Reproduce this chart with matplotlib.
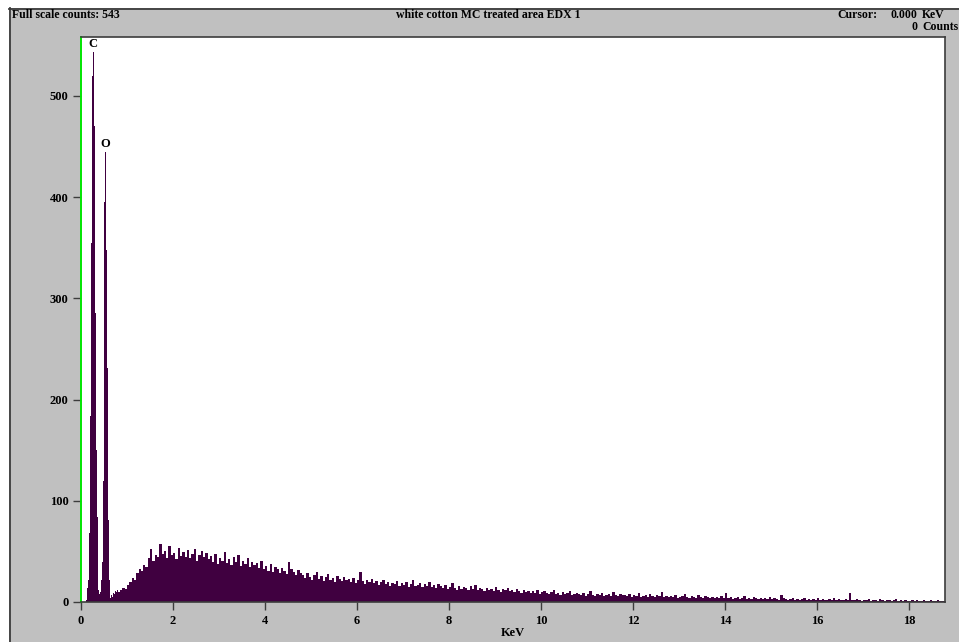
import matplotlib
matplotlib.use("Agg")
import matplotlib.pyplot as plt
from matplotlib.patches import Rectangle
from matplotlib.lines import Line2D
import numpy as np

# ---- spectrum data -------------------------------------------------------
# low-energy region (C and O lines), 0.02 keV channels starting at 0.00 keV
low_start = 0.0
low_step = 0.02
low_counts = [0, 0, 0, 0, 0, 2, 8, 14, 22, 68,
              184, 355, 520, 543, 470, 286, 150, 84, 30, 12,
              8, 10, 22, 40, 120, 395, 445, 348, 231, 81,
              22, 6, 4, 7, 5, 9, 8, 11, 10, 12]

# continuum, 0.05 keV channels starting at 0.80 keV (one row per keV)
bg_start = 0.80
bg_step = 0.05
bg_counts = [
    10, 12, 14, 13, 17, 20, 24, 22, 29, 33, 31, 37, 35, 43, 52, 41, 46, 44, 57, 47,
    50, 43, 55, 46, 48, 42, 53, 45, 49, 44, 51, 43, 47, 52, 41, 46, 50, 44, 48, 42,
    45, 40, 47, 38, 43, 41, 49, 39, 42, 37, 44, 40, 46, 36, 41, 38, 43, 35, 40, 37,
    39, 34, 41, 33, 36, 31, 38, 30, 35, 33, 29, 34, 31, 28, 40, 33, 30, 27, 32, 29,
    27, 24, 29, 25, 22, 27, 30, 23, 26, 21, 25, 28, 22, 24, 20, 26, 23, 21, 25, 22,
    23, 20, 24, 19, 22, 30, 21, 18, 22, 20, 23, 19, 21, 17, 20, 22, 18, 20, 16, 19,
    18, 21, 16, 19, 17, 20, 15, 18, 22, 16, 17, 19, 15, 18, 16, 20, 15, 17, 14, 18,
    16, 14, 17, 13, 15, 19, 14, 12, 16, 13, 15, 14, 12, 16, 13, 17, 12, 14, 13, 11,
    14, 12, 13, 11, 15, 12, 10, 13, 12, 14, 11, 12, 10, 13, 11, 9, 12, 10, 11, 9,
    11, 9, 12, 8, 10, 11, 9, 8, 10, 12, 8, 9, 7, 10, 8, 9, 11, 7, 8, 9,
    8, 7, 9, 6, 8, 11, 7, 6, 8, 7, 9, 6, 7, 8, 6, 10, 7, 6, 8, 7,
    7, 6, 8, 5, 7, 6, 9, 5, 6, 7, 5, 8, 6, 5, 7, 6, 10, 5, 6, 5,
    6, 5, 7, 4, 5, 6, 8, 5, 4, 6, 5, 4, 7, 5, 4, 6, 5, 4, 5, 4,
    5, 4, 6, 4, 9, 4, 5, 3, 4, 5, 3, 4, 6, 3, 4, 3, 5, 4, 3, 4,
    3, 4, 3, 5, 3, 4, 3, 2, 7, 4, 3, 2, 3, 4, 2, 3, 2, 3, 4, 2,
    3, 2, 3, 2, 4, 2, 3, 2, 2, 3, 2, 4, 2, 3, 2, 2, 3, 2, 9, 2,
    2, 3, 2, 1, 2, 2, 3, 1, 2, 2, 1, 3, 2, 1, 2, 2, 1, 2, 3, 1,
    2, 1, 2, 1, 1, 2, 1, 2, 1, 1, 2, 1, 1, 2, 1, 1, 2, 1, 1, 1,
]

# peak labels: element, energy (keV), counts at top
peak_names = ["C", "O"]
peak_energy = [0.26, 0.52]
peak_height = [543, 445]

x_ticks = [0, 2, 4, 6, 8, 10, 12, 14, 16, 18]
y_ticks = [0, 100, 200, 300, 400, 500]
full_scale = 543
title = "white cotton MC treated area EDX 1"

# ---- figure ----------------------------------------------------------------
W, H = 959, 642
GRAY = "#c0c0c0"
DARK = "#3c3c3c"
SPEC = "#400040"
SERIF = ["Liberation Serif", "DejaVu Serif"]

fig = plt.figure(figsize=(W / 100, H / 100), dpi=100)
fig.patch.set_facecolor(GRAY)

def fx(px):
    return px / W

def fy(py):
    return 1 - py / H

# white margin above and left of the grey instrument panel, with dark edge
fig.patches.append(Rectangle((0, fy(8)), 1, 1 - fy(8), transform=fig.transFigure,
                             facecolor="white", edgecolor="none"))
fig.patches.append(Rectangle((0, 0), fx(9), 1, transform=fig.transFigure,
                             facecolor="white", edgecolor="none"))
fig.lines.append(Line2D([fx(9), 1], [fy(8.5), fy(8.5)], transform=fig.transFigure,
                        color=DARK, lw=1.3))
fig.lines.append(Line2D([fx(9.5), fx(9.5)], [0, fy(8)], transform=fig.transFigure,
                        color=DARK, lw=1.3))

# header texts
hdr = dict(family=SERIF, fontweight="bold", fontsize=8.5, color="black", va="center")
fig.text(fx(12), fy(15), f"Full scale counts: {full_scale}", ha="left", **hdr)
fig.text(fx(488), fy(15), title, ha="center", **hdr)
fig.text(fx(837), fy(15), "Cursor:", ha="left", **hdr)
fig.text(fx(917), fy(15), "0.000", ha="right", **hdr)
fig.text(fx(922), fy(15), "KeV", ha="left", **hdr)
fig.text(fx(917), fy(27), "0", ha="right", **hdr)
fig.text(fx(922), fy(27), "Counts", ha="left", **hdr)

# plot area
ax_l, ax_r, ax_t, ax_b = 81, 945, 37, 602
ax = fig.add_axes([fx(ax_l), fy(ax_b), (ax_r - ax_l) / W, (ax_b - ax_t) / H])
ax.set_facecolor("white")

low_edges = low_start + low_step * np.arange(len(low_counts) + 1)
bg_edges = bg_start + bg_step * np.arange(len(bg_counts) + 1)
edges = np.concatenate([low_edges[:-1], bg_edges])
values = np.array(low_counts + bg_counts, dtype=float)
ax.stairs(values, edges, fill=True, color=SPEC, linewidth=0)

xmax = (ax_r - ax_l) / 46.0
ymax = (ax_b - ax_t) / 1.012
ax.set_xlim(0, xmax)
ax.set_ylim(0, ymax)

for name, e, h in zip(peak_names, peak_energy, peak_height):
    ax.text(e, h + 8, name, family=SERIF, fontsize=9, fontweight="bold",
            ha="center", va="center", color="black")

for side in ["top", "right", "bottom"]:
    ax.spines[side].set_color(DARK)
    ax.spines[side].set_linewidth(1.2)
ax.spines["left"].set_color("#00e600")
ax.spines["left"].set_linewidth(1.4)

ax.set_xticks(x_ticks)
ax.set_yticks(y_ticks)
ax.tick_params(axis="both", direction="out", length=6, width=1, color=DARK,
               labelsize=9, pad=3)
for lab in ax.get_xticklabels() + ax.get_yticklabels():
    lab.set_family(SERIF)
    lab.set_fontweight("bold")
ax.set_xlabel("KeV", family=SERIF, fontweight="bold", fontsize=9, labelpad=0)

fig.savefig("out.png", dpi=100, facecolor=fig.get_facecolor())
